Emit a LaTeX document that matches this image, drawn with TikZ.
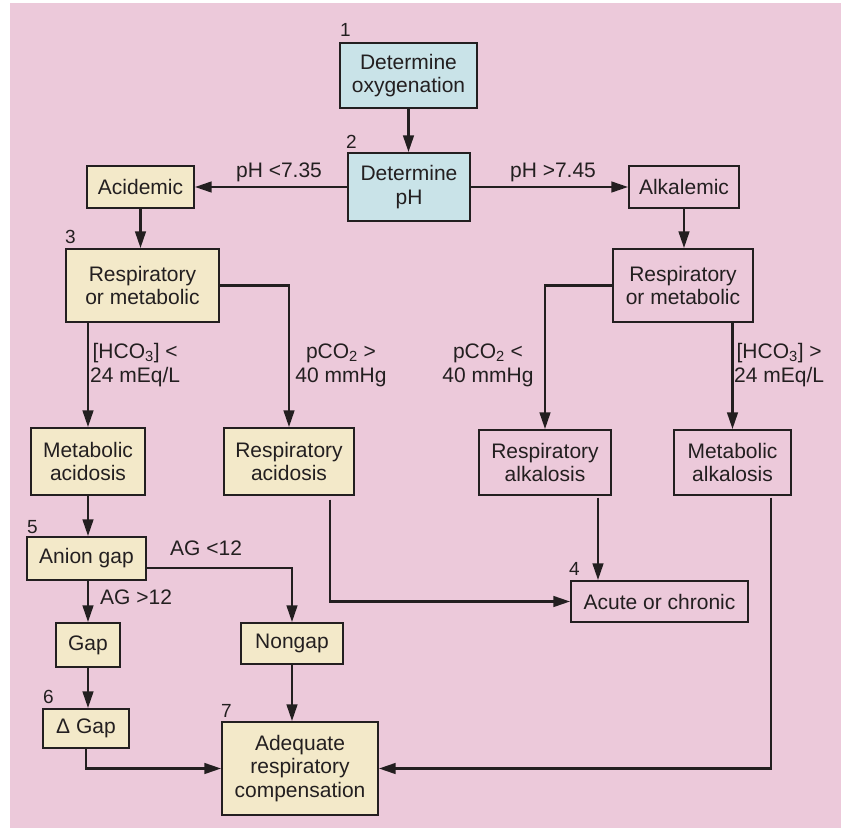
\documentclass[tikz,border=0pt]{standalone}
\usepackage{fontspec}
\setmainfont{Liberation Sans}
\usetikzlibrary{arrows.meta,calc}
\definecolor{bgpink}{RGB}{236,201,218}
\definecolor{boxblue}{RGB}{201,227,232}
\definecolor{boxsand}{RGB}{243,233,201}
\definecolor{inkline}{RGB}{35,31,32}
\tikzset{
  flowbox/.style={draw=inkline, line width=1.4pt, inner sep=0pt, align=center,
    font=\fontsize{21}{23.5}\selectfont, text=inkline},
  bluebox/.style={flowbox, fill=boxblue},
  sandbox/.style={flowbox, fill=boxsand},
  pinkbox/.style={flowbox, fill=bgpink},
  num/.style={inner sep=0pt, anchor=base west, font=\fontsize{19}{20}\selectfont, text=inkline},
  lbl/.style={inner sep=0pt, align=center, font=\fontsize{21}{24}\selectfont, text=inkline},
  flow/.style={draw=inkline, line width=2.9pt, -{Triangle[length=17pt,width=10.5pt]}},
}
\begin{document}
\begin{tikzpicture}[x=1pt,y=-1pt]
  \fill[white] (0,0) rectangle (841,830);
  \fill[bgpink] (10,3) rectangle (841,828);
  \useasboundingbox (0,0) rectangle (841,830);

  \node[bluebox, minimum width=137pt, minimum height=65pt] (oxy) at (408.5,75.5) {Determine\\oxygenation};
  \node[bluebox, minimum width=122pt, minimum height=68pt] (ph) at (409,187) {Determine\\pH};
  \node[sandbox, minimum width=107pt, minimum height=42pt] (acid) at (140.5,187) {Acidemic};
  \node[pinkbox, minimum width=110pt, minimum height=42pt] (alk) at (684,187) {Alkalemic};
  \node[sandbox, minimum width=153pt, minimum height=73pt] (rml) at (142.5,285.5) {Respiratory\\or metabolic};
  \node[pinkbox, minimum width=140pt, minimum height=73pt] (rmr) at (683,285.5) {Respiratory\\or metabolic};
  \node[sandbox, minimum width=114pt, minimum height=67pt] (macid) at (88,461.5) {Metabolic\\acidosis};
  \node[sandbox, minimum width=130pt, minimum height=67pt] (racid) at (289,461.5) {Respiratory\\acidosis};
  \node[pinkbox, minimum width=132pt, minimum height=65pt] (ralk) at (545,462.5) {Respiratory\\alkalosis};
  \node[pinkbox, minimum width=117pt, minimum height=65pt] (malk) at (732.5,462.5) {Metabolic\\alkalosis};
  \node[sandbox, minimum width=119pt, minimum height=43pt] (anion) at (86.5,558.5) {Anion gap};
  \node[sandbox, minimum width=64pt, minimum height=44pt] (gap) at (88,645) {Gap};
  \node[sandbox, minimum width=102pt, minimum height=41pt] (nongap) at (292,643.5) {Nongap};
  \node[sandbox, minimum width=86pt, minimum height=39pt] (dgap) at (86,728.5) {Δ Gap};
  \node[sandbox, minimum width=156pt, minimum height=93pt] (adeq) at (300,768.5) {Adequate\\respiratory\\compensation};
  \node[pinkbox, minimum width=177pt, minimum height=41pt] (acute) at (659.5,601.5) {Acute or chronic};

  \node[num] (n1) at (340,36) {1};
  \node[num] (n2) at (346,148) {2};
  \node[num] (n3) at (65,243) {3};
  \node[num] (n4) at (569,575) {4};
  \node[num] (n5) at (27,533) {5};
  \node[num] (n6) at (43,703) {6};
  \node[num] (n7) at (221,717) {7};

  \node[lbl, anchor=base] (lacid) at (279,177) {pH <7.35};
  \node[lbl, anchor=base] (lalk) at (553,177) {pH >7.45};
  \node[lbl, anchor=west] (lhco3a) at (90,365) {[HCO\textsubscript{3}] <\\24 mEq/L};
  \node[lbl] (lpco2a) at (341,365) {pCO\textsubscript{2} >\\40 mmHg};
  \node[lbl] (lpco2b) at (488,365) {pCO\textsubscript{2} <\\40 mmHg};
  \node[lbl, anchor=west] (lhco3b) at (734,365) {[HCO\textsubscript{3}] >\\24 mEq/L};
  \node[lbl, anchor=base west] (lagb) at (100,604) {AG >12};
  \node[lbl, anchor=base west] (lags) at (170,555) {AG <12};

  \coordinate (anionout) at ([yshift=-9.5pt]anion.east);
  \coordinate (racidout) at ([xshift=41pt,yshift=-4pt]racid.south);
  \coordinate (ralkout) at ([xshift=53pt,yshift=-2pt]ralk.south);
  \coordinate (malkout) at ([xshift=38.5pt,yshift=-2pt]malk.south);

  \draw[flow] (oxy.south) -- (oxy.south |- ph.north);
  \draw[flow] (ph.west) -- (acid.east);
  \draw[flow] (ph.east) -- (alk.west);
  \draw[flow] (acid.south) -- (acid.south |- rml.north);
  \draw[flow] (alk.south) -- (alk.south |- rmr.north);
  \draw[flow] (macid.north |- rml.south) -- (macid.north);
  \draw[flow] (rml.east) -| (racid.north);
  \draw[flow] (rmr.west) -| (ralk.north);
  \draw[flow] (malk.north |- rmr.south) -- (malk.north);
  \draw[flow] (macid.south) -- (macid.south |- anion.north);
  \draw[flow] (gap.north |- anion.south) -- (gap.north);
  \draw[flow] (anionout) -| (nongap.north);
  \draw[flow] (gap.south) -- (gap.south |- dgap.north);
  \draw[flow] (dgap.south) |- (adeq.west);
  \draw[flow] (nongap.south) -- (nongap.south |- adeq.north);
  \draw[flow] (racidout) |- (acute.west);
  \draw[flow] (ralkout) -- (ralkout |- acute.north);
  \draw[flow] (malkout) |- (adeq.east);
\end{tikzpicture}
\end{document}
